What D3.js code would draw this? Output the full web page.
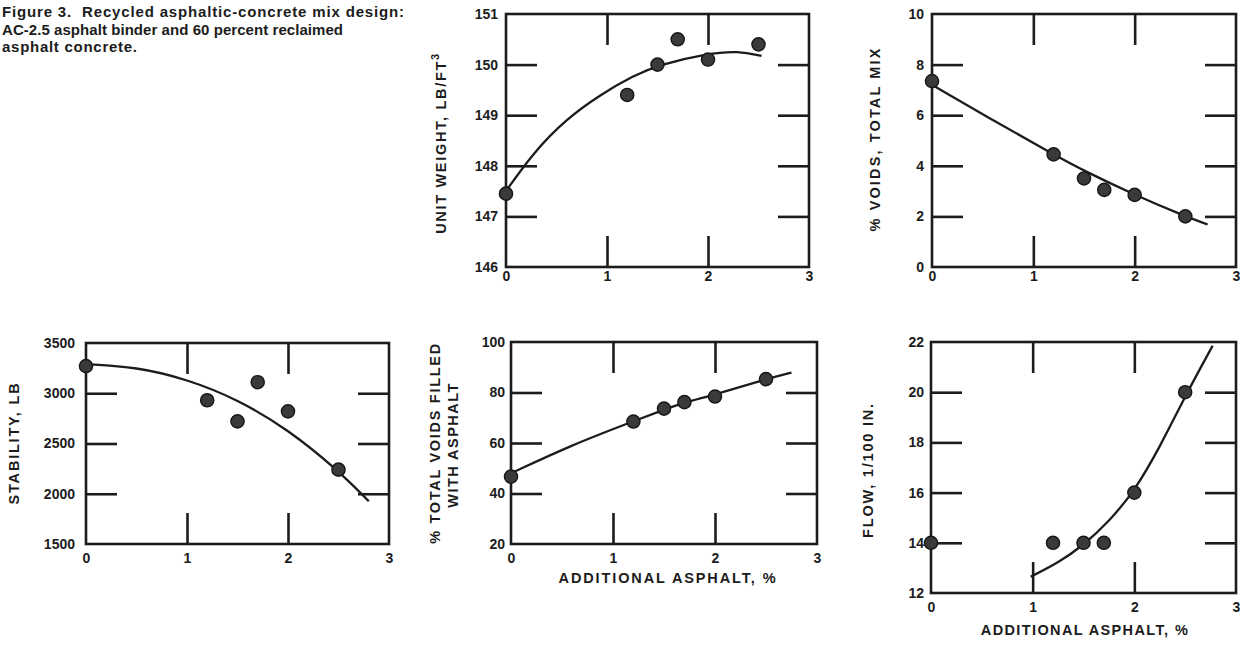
<!DOCTYPE html>
<html>
<head>
<meta charset="utf-8">
<script src="https://cdn.jsdelivr.net/npm/d3@7"></script>
<style>
body { margin: 0; background: #fff; }
svg text { font-family: "Liberation Sans", Arial, sans-serif; font-weight: bold; fill: #1c1c1c; }
.tick text { font-size: 14px; }
</style>
</head>
<body>
<svg id="fig" width="1240" height="650"></svg>
<script>
// valeurs
const asphalt = [0, 1.2, 1.5, 1.7, 2.0, 2.5];
const unitWeight = [147.45, 149.4, 150.0, 150.5, 150.1, 150.4];
const voids = [7.35, 4.45, 3.5, 3.05, 2.85, 2.0];
const stability = [3270, 2930, 2720, 3110, 2820, 2240];
const vfa = [46.7, 68.5, 73.6, 76.2, 78.4, 85.3];
const flow = [14, 14, 14, 14, 16, 20];

// courbes tracées à la main (points relevés)
const unitWeightCurveX = [0, 0.27, 0.6, 0.93, 1.26, 1.52, 2.0, 2.3, 2.53];
const unitWeightCurveY = [147.5, 148.26, 148.93, 149.4, 149.78, 150.0, 150.22, 150.27, 150.17];
const voidsCurveX = [0, 0.6, 1.2, 1.5, 2.0, 2.5, 2.72];
const voidsCurveY = [7.2, 5.8, 4.45, 3.8, 2.85, 2.0, 1.68];
const stabilityCurveX = [0, 0.5, 1.0, 1.5, 2.0, 2.5, 2.8];
const stabilityCurveY = [3290, 3262, 3140, 2940, 2640, 2230, 1925];
const vfaCurveX = [0, 0.6, 1.2, 1.5, 1.7, 2.0, 2.5, 2.75];
const vfaCurveY = [48, 59.3, 68.6, 73.2, 76, 79.2, 85.3, 87.9];
const flowCurveX = [0.98, 1.25, 1.5, 1.75, 2.0, 2.25, 2.5, 2.77];
const flowCurveY = [12.65, 13.2, 13.9, 14.85, 16.05, 17.8, 19.85, 21.85];

// graduations
const xTickValues = [0, 1, 2, 3];
const xInnerTicks = [1, 2];
const unitWeightTicks = [146, 147, 148, 149, 150, 151];
const voidsTicks = [0, 2, 4, 6, 8, 10];
const stabilityTicks = [1500, 2000, 2500, 3000, 3500];
const vfaTicks = [20, 40, 60, 80, 100];
const flowTicks = [12, 14, 16, 18, 20, 22];

const titleLines = ["Figure 3.  Recycled asphaltic-concrete mix design:",
                    "AC-2.5 asphalt binder and 60 percent reclaimed",
                    "asphalt concrete."];
const xTitle = "ADDITIONAL ASPHALT, %";

const svg = d3.select('#fig');
const TICK = 31;
const ink = '#1c1c1c';

// étire le texte pour retrouver la largeur de l'original
function fitText(sel, target) {
  sel.each(function() {
    const n = this.getNumberOfChars();
    const L = this.getComputedTextLength();
    d3.select(this).style('letter-spacing', ((target - L) / (n - 1)) + 'px');
  });
}

function zip(xs, ys) { return xs.map((v, i) => [v, ys[i]]); }

function dessine_panneau(p) {
  const g = svg.append('g').attr('transform', `translate(${p.left},${p.top})`);
  const x = d3.scaleLinear().domain([0, 3]).range([0, p.w]);
  const y = d3.scaleLinear().domain(d3.extent(p.ticks)).range([p.h, 0]);
  const inner = p.ticks.slice(1, -1);

  // petites marques vers l'intérieur
  g.append('g').call(d3.axisLeft(y).tickValues(inner).tickSize(-TICK).tickFormat(''));
  g.append('g').attr('transform', `translate(${p.w},0)`)
    .call(d3.axisRight(y).tickValues(inner).tickSize(-TICK).tickFormat(''));
  g.append('g').call(d3.axisTop(x).tickValues(xInnerTicks).tickSize(-TICK).tickFormat(''));
  g.append('g').attr('transform', `translate(0,${p.h})`)
    .call(d3.axisBottom(x).tickValues(xInnerTicks).tickSize(-TICK).tickFormat(''));

  // libellés
  g.append('g').call(d3.axisLeft(y).tickValues(p.ticks).tickSize(0).tickPadding(p.yPad || 8).tickFormat(d3.format('d')));
  g.append('g').attr('transform', `translate(0,${p.h})`)
    .call(d3.axisBottom(x).tickValues(xTickValues).tickSize(0).tickPadding(p.xPad).tickFormat(d3.format('d')));

  g.selectAll('.domain').remove();
  g.selectAll('.tick line').attr('stroke', ink).attr('stroke-width', 2.6);

  g.append('rect').attr('width', p.w).attr('height', p.h)
    .attr('fill', 'none').attr('stroke', ink).attr('stroke-width', 2.6);

  const line = d3.line().x(d => x(d[0])).y(d => y(d[1])).curve(d3.curveBasis);
  g.append('path').datum(zip(p.cx, p.cy)).attr('d', line)
    .attr('fill', 'none').attr('stroke', ink).attr('stroke-width', 2.3);

  g.selectAll('circle.pt').data(zip(asphalt, p.values)).enter().append('circle')
    .attr('class', 'pt')
    .attr('cx', d => x(d[0])).attr('cy', d => y(d[1])).attr('r', 6.6)
    .attr('fill', '#3a3a3a').attr('stroke', '#161616').attr('stroke-width', 1.4);

  // titre de l'axe y (une ou deux lignes)
  p.yTitle.forEach((t, i) => {
    const txt = svg.append('text')
      .attr('transform', `translate(${t.cx},${t.cy}) rotate(-90)`)
      .attr('text-anchor', 'middle').attr('dominant-baseline', 'central')
      .style('font-size', '14.5px');
    txt.append('tspan').text(t.text);
    if (t.sup) txt.append('tspan').attr('dy', -6).style('font-size', '11px').text(t.sup);
    fitText(txt, t.len);
  });

  if (p.xTitle) {
    const txt = svg.append('text').attr('x', p.xTitle.cx).attr('y', p.xTitle.cy)
      .attr('text-anchor', 'middle').attr('dominant-baseline', 'central')
      .style('font-size', '14.5px').text(xTitle);
    fitText(txt, p.xTitle.len);
  }
}

// titre de la figure
titleLines.forEach((t, i) => {
  const txt = svg.append('text').attr('x', 2).attr('y', 17 + i * 17.5)
    .style('font-size', '15px').style('white-space', 'pre').text(t);
  fitText(txt, [402, 341, 135][i]);
});

dessine_panneau({left: 506, top: 14, w: 303, h: 253, ticks: unitWeightTicks, values: unitWeight,
  cx: unitWeightCurveX, cy: unitWeightCurveY, xPad: 4,
  yTitle: [{text: 'UNIT WEIGHT, LB/FT', sup: '3', cx: 441, cy: 143, len: 180}]});

dessine_panneau({left: 932, top: 14, w: 304, h: 253, ticks: voidsTicks, values: voids,
  cx: voidsCurveX, cy: voidsCurveY, xPad: 4,
  yTitle: [{text: '% VOIDS, TOTAL MIX', cx: 875, cy: 139, len: 183}]});

dessine_panneau({left: 86, top: 343, w: 303, h: 201, ticks: stabilityTicks, values: stability,
  cx: stabilityCurveX, cy: stabilityCurveY, xPad: 9, yPad: 11,
  yTitle: [{text: 'STABILITY, LB', cx: 14, cy: 443, len: 121}]});

dessine_panneau({left: 511, top: 342, w: 306, h: 202, ticks: vfaTicks, values: vfa,
  cx: vfaCurveX, cy: vfaCurveY, xPad: 9, yPad: 6,
  yTitle: [{text: '% TOTAL VOIDS FILLED', cx: 435, cy: 443, len: 200},
           {text: 'WITH ASPHALT', cx: 453, cy: 445, len: 124}],
  xTitle: {cx: 668, cy: 578, len: 217}});

dessine_panneau({left: 931, top: 342, w: 305, h: 251, ticks: flowTicks, values: flow,
  cx: flowCurveX, cy: flowCurveY, xPad: 9, yPad: 7,
  yTitle: [{text: 'FLOW, 1/100 IN.', cx: 868, cy: 470, len: 134}],
  xTitle: {cx: 1085, cy: 630, len: 207}});
</script>
</body>
</html>
